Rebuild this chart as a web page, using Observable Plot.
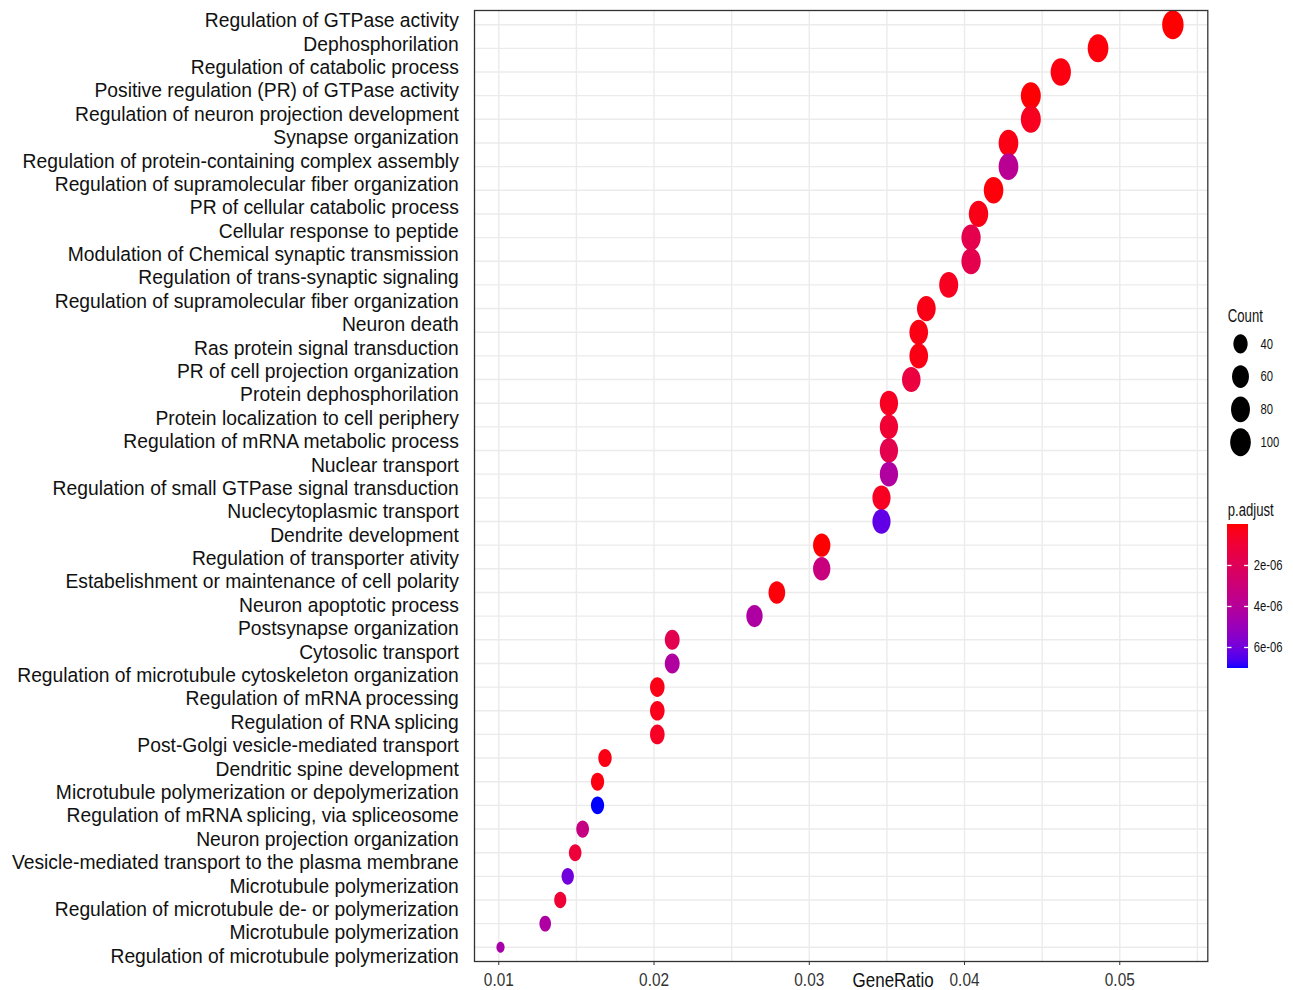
<!DOCTYPE html>
<html>
<head>
<meta charset="utf-8">
<script src="https://cdn.jsdelivr.net/npm/d3@7"></script>
<script src="https://cdn.jsdelivr.net/npm/@observablehq/plot@0.6"></script>
<style>
  body { margin: 0; background: #fff; }
  #chart { position: relative; width: 1293px; height: 990px; font-family: "Liberation Sans", Arial, sans-serif; }
  #chart > svg { position: absolute; overflow: visible; }
</style>
</head>
<body>
<div id="chart"></div>
<script>
// GO terms, listed top to bottom
const termLabels = [
  "Regulation of GTPase activity",
  "Dephosphorilation",
  "Regulation of catabolic process",
  "Positive regulation (PR) of GTPase activity",
  "Regulation of neuron projection development",
  "Synapse organization",
  "Regulation of protein-containing complex assembly",
  "Regulation of supramolecular fiber organization",
  "PR of cellular catabolic process",
  "Cellular response to peptide",
  "Modulation of Chemical synaptic transmission",
  "Regulation of trans-synaptic signaling",
  "Regulation of supramolecular fiber organization",
  "Neuron death",
  "Ras protein signal transduction",
  "PR of cell projection organization",
  "Protein dephosphorilation",
  "Protein localization to cell periphery",
  "Regulation of mRNA metabolic process",
  "Nuclear transport",
  "Regulation of small GTPase signal transduction",
  "Nuclecytoplasmic transport",
  "Dendrite development",
  "Regulation of transporter ativity",
  "Estabelishment or maintenance of cell polarity",
  "Neuron apoptotic process",
  "Postsynapse organization",
  "Cytosolic transport",
  "Regulation of microtubule cytoskeleton organization",
  "Regulation of mRNA processing",
  "Regulation of RNA splicing",
  "Post-Golgi vesicle-mediated transport",
  "Dendritic spine development",
  "Microtubule polymerization or depolymerization",
  "Regulation of mRNA splicing, via spliceosome",
  "Neuron projection organization",
  "Vesicle-mediated transport to the plasma membrane",
  "Microtubule polymerization",
  "Regulation of microtubule de- or polymerization",
  "Microtubule polymerization",
  "Regulation of microtubule polymerization"
];

// enrichment results, one per dot row (rank 1 = top)
const rank = d3.range(1, 41);
const geneRatio = [
  0.05342, 0.04860, 0.04620, 0.04427, 0.04427, 0.04283, 0.04283, 0.04187, 0.04090, 0.04042,
  0.04042, 0.03898, 0.03754, 0.03705, 0.03705, 0.03657, 0.03513, 0.03513, 0.03513, 0.03513,
  0.03465, 0.03465, 0.03080, 0.03080, 0.02791, 0.02647, 0.02117, 0.02117, 0.02021, 0.02021,
  0.02021, 0.01684, 0.01636, 0.01636, 0.01540, 0.01492, 0.01444, 0.01396, 0.01299, 0.01011
];
const geneCount = [
  111, 101, 96, 92, 92, 89, 89, 87, 85, 84,
  84, 81, 78, 77, 77, 76, 73, 73, 73, 73,
  72, 72, 64, 64, 58, 55, 44, 44, 42, 42,
  42, 35, 34, 34, 32, 31, 30, 29, 27, 21
];
const pAdjust = [
  1.1e-9, 1.2e-7, 2.0e-7, 5.0e-8, 4.5e-7, 2.5e-7, 3.8e-6, 1.0e-7, 3.0e-7, 1.7e-6,
  1.7e-6, 4.5e-7, 3.0e-7, 2.5e-7, 2.5e-7, 1.3e-6, 5.0e-7, 9.5e-7, 1.7e-6, 4.2e-6,
  5.0e-7, 6.3e-6, 2.0e-8, 3.2e-6, 1.0e-7, 4.3e-6, 1.8e-6, 4.2e-6, 3.0e-7, 3.5e-7,
  6.0e-7, 2.5e-7, 2.0e-7, 7.01e-6, 3.3e-6, 1.1e-6, 6.0e-6, 1.0e-6, 4.3e-6, 4.5e-6
];

const ratioTicks = [0.01, 0.02, 0.03, 0.04, 0.05];
const ratioGrid = [0.01, 0.015, 0.02, 0.025, 0.03, 0.035, 0.04, 0.045, 0.05, 0.055];
const countBreaks = [40, 60, 80, 100];
const pBreaks = [2e-6, 4e-6, 6e-6];

const rows = rank.map((r, i) => ({rank: r, ratio: geneRatio[i], count: geneCount[i], p: pAdjust[i]}));

// oval dot symbol: the symbol size gives the vertical radius
const oval = {
  draw(context, size) {
    const ry = Math.sqrt(size / Math.PI), rx = ry * 0.74, k = 0.5523;
    context.moveTo(rx, 0);
    context.bezierCurveTo(rx, k * ry, k * rx, ry, 0, ry);
    context.bezierCurveTo(-k * rx, ry, -rx, k * ry, -rx, 0);
    context.bezierCurveTo(-rx, -k * ry, -k * rx, -ry, 0, -ry);
    context.bezierCurveTo(k * rx, -ry, rx, -k * ry, rx, 0);
    context.closePath();
  }
};

const countMin = d3.min(geneCount), countMax = d3.max(geneCount);
const rScale = {type: "sqrt", transform: (c) => c - countMin, domain: [0, countMax - countMin], range: [5.5, 14.5]};
const pDomain = d3.extent(pAdjust);
const colorScale = {type: "linear", domain: pDomain, range: ["#ff0000", "#0000ff"], interpolate: d3.interpolateLab};
const baseStyle = {background: "transparent", fontFamily: "'Liberation Sans', Arial, sans-serif", color: "#111", overflow: "visible"};
const sciFormat = (d) => d.toExponential(0).replace(/e([+-])(\d)$/, "e$10$2");

// dot panel
const main = Plot.plot({
  width: 1293, height: 990,
  marginLeft: 474, marginRight: 85.7, marginTop: 10, marginBottom: 29,
  style: baseStyle,
  x: {domain: [0.008435, 0.05567]},
  y: {type: "point", domain: rank, padding: 0.6, round: false, axis: null},
  r: rScale,
  color: colorScale,
  marks: [
    Plot.gridX(ratioGrid, {stroke: "#ebebeb", strokeOpacity: 1, strokeWidth: 1.4}),
    Plot.gridY({stroke: "#ebebeb", strokeOpacity: 1, strokeWidth: 1.4}),
    Plot.dot(rows, {x: "ratio", y: "rank", r: "count", fill: "p", symbol: oval, clip: true}),
    Plot.frame({stroke: "#333", strokeWidth: 1.3}),
    Plot.axisX(ratioTicks, {tickSize: 4, tickPadding: 8.4, fontSize: 17.7, color: "#333", tickFormat: d3.format(".2f"), label: null}),
    Plot.text(["GeneRatio"], {frameAnchor: "bottom", lineAnchor: "bottom", dx: 52, dy: 25.5, fontSize: 20, fill: "#111"})
  ]
});

// term labels column
const labels = Plot.plot({
  width: 474, height: 990,
  marginLeft: 0, marginRight: 15.7, marginTop: 20.5, marginBottom: 34,
  style: baseStyle,
  y: {type: "point", domain: d3.range(termLabels.length), padding: 0, round: false, axis: null},
  marks: [
    Plot.text(termLabels, {y: (d, i) => i, text: (d) => d, frameAnchor: "right", textAnchor: "end", fontSize: 19.3, fill: "#111"})
  ]
});

// size legend
const countLegend = Plot.plot({
  width: 80, height: 170,
  marginLeft: 0, marginRight: 0, marginTop: 53.3, marginBottom: 18.3,
  style: baseStyle,
  y: {domain: [countBreaks[0], countBreaks[countBreaks.length - 1]], reverse: true, axis: null},
  r: rScale,
  marks: [
    Plot.dot(countBreaks, {y: (d) => d, r: (d) => d, symbol: oval, fill: "#000", frameAnchor: "left", dx: 27}),
    Plot.text(countBreaks, {y: (d) => d, text: (d) => String(d), frameAnchor: "left", textAnchor: "start", dx: 47, fontSize: 15, fill: "#111"}),
    Plot.text(["Count"], {frameAnchor: "top-left", textAnchor: "start", lineAnchor: "bottom", dx: 14.3, dy: -22.3, fontSize: 17.5, fill: "#111"})
  ]
});

// colour bar legend
const nSteps = 160;
const dp = (pDomain[1] - pDomain[0]) / nSteps;
const steps = d3.range(nSteps).map((i) => pDomain[0] + i * dp);
const colorLegend = Plot.plot({
  width: 80, height: 190,
  marginLeft: 14.3, marginRight: 44.7, marginTop: 34, marginBottom: 12.3,
  style: baseStyle,
  x: {domain: [0, 1], axis: null},
  y: {domain: pDomain, reverse: true, axis: null},
  color: colorScale,
  marks: [
    Plot.rect(steps, {y1: (d) => d, y2: (d) => Math.min(d + dp * 2, pDomain[1]), fill: (d) => d + dp / 2, shapeRendering: "crispEdges"}),
    Plot.ruleY(pBreaks, {x1: 0, x2: 0.2, stroke: "#fff", strokeWidth: 1.3}),
    Plot.ruleY(pBreaks, {x1: 0.8, x2: 1, stroke: "#fff", strokeWidth: 1.3}),
    Plot.axisY(pBreaks, {anchor: "right", tickSize: 0, tickPadding: 5, fontSize: 15, color: "#111", tickFormat: sciFormat, label: null}),
    Plot.text(["p.adjust"], {frameAnchor: "top-left", textAnchor: "start", lineAnchor: "bottom", dy: -8.3, fontSize: 17.5, fill: "#111"})
  ]
});

const chart = document.getElementById("chart");
const place = (svg, left, top) => { svg.style.left = left + "px"; svg.style.top = top + "px"; chart.append(svg); };
place(main, 0, 0);
place(labels, 0, 0);
place(countLegend, 1213, 290);
place(colorLegend, 1213, 490);

// narrow the condensed-looking texts
function squeeze(svg, selector, factor) {
  svg.querySelectorAll(selector).forEach((t) => {
    const w = t.getComputedTextLength();
    t.setAttribute("textLength", w * factor);
    t.setAttribute("lengthAdjust", "spacingAndGlyphs");
  });
}
squeeze(main, 'g[aria-label="x-axis tick label"] text', 0.87);
squeeze(main, 'g[aria-label="text"] text', 0.85);
squeeze(countLegend, "text", 0.75);
squeeze(colorLegend, "text", 0.75);
</script>
</body>
</html>
